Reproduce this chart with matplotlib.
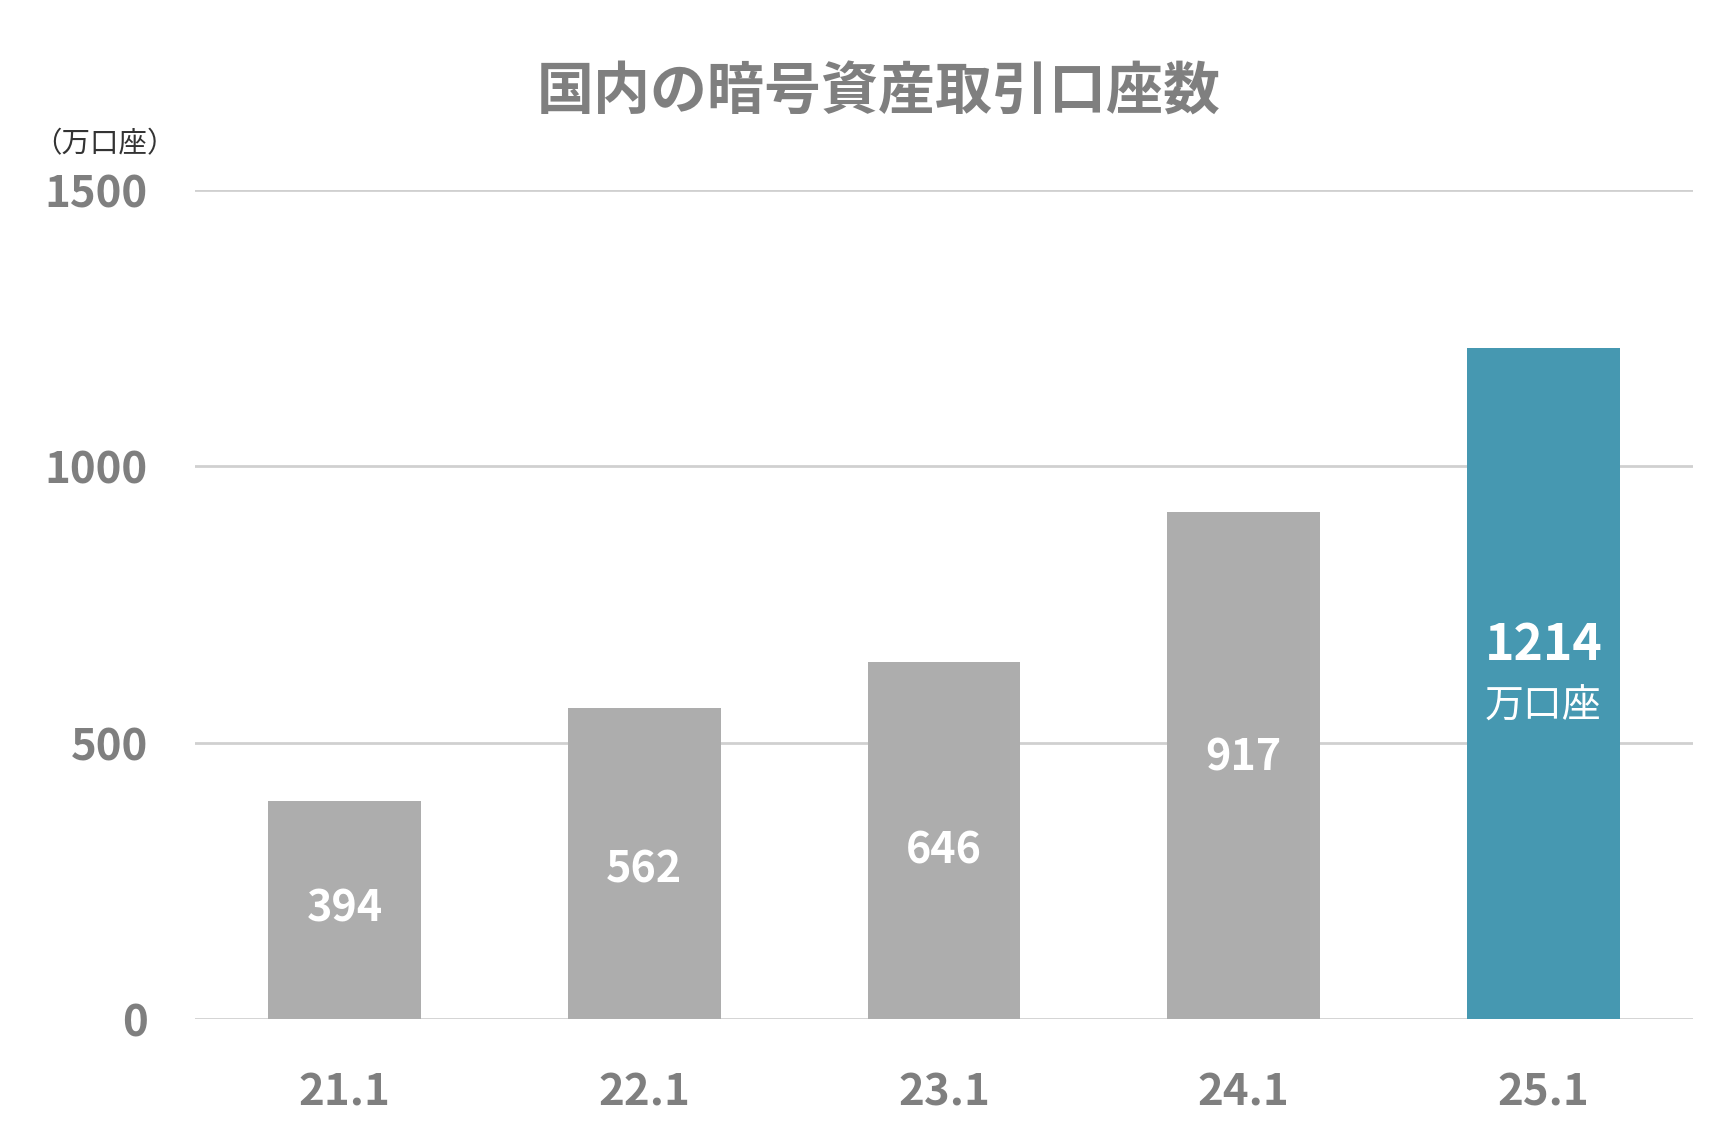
import matplotlib.pyplot as plt

plt.rcParams['font.family'] = ['Noto Sans CJK JP', 'DejaVu Sans']

# data
labels = ['21.1', '22.1', '23.1', '24.1', '25.1']
values = [394, 562, 646, 917, 1214]
yticks = [0, 500, 1000, 1500]

gray = '#adadad'
blue = '#4698b1'
text_gray = '#7f7f7f'
colors = [gray] * 4 + [blue]

fig = plt.figure(figsize=(17.33, 11.41), dpi=100)
ax = fig.add_axes([0.1125, 0.107, 0.8645, 0.7265])

x = range(len(labels))
bars = ax.bar(x, values, width=0.51, color=colors, zorder=3)

ax.set_xlim(-0.5, 4.5)
ax.set_ylim(0, 1500)
ax.set_yticks(yticks)
ax.set_yticklabels([str(v) for v in yticks], fontsize=31.5, fontweight='bold', color=text_gray)
ax.set_xticks(list(x))
ax.set_xticklabels(labels, fontsize=31.5, fontweight='bold', color=text_gray)
ax.tick_params(length=0)
ax.tick_params(axis='y', pad=34)
ax.tick_params(axis='x', pad=37)
ax.grid(axis='y', color='#d0d0d0', linewidth=2, zorder=0)
for s in ax.spines.values():
    s.set_visible(False)

# value labels (nudged a little from the bar middle, as in the original)
nudge = [3, -11, -19, 14]
for i, v in enumerate(values[:-1]):
    ax.text(i, v / 2 + nudge[i], str(v), ha='center', va='center', color='white',
            fontsize=31, fontweight='bold', zorder=4)
ax.text(4, values[4] / 2 + 68, str(values[4]), ha='center', va='center', color='white',
        fontsize=36, fontweight='bold', zorder=4)
ax.text(4, values[4] / 2 - 42, '万口座', ha='center', va='center', color='white',
        fontsize=28, zorder=4)

fig.text(0.507, 0.919, '国内の暗号資産取引口座数', ha='center', va='center',
         fontsize=41, fontweight='bold', color=text_gray)
fig.text(0.019, 0.874, '（万口座）', ha='left', va='center', fontsize=20.5, color='#333333')

fig.savefig('out.png', dpi=100)
